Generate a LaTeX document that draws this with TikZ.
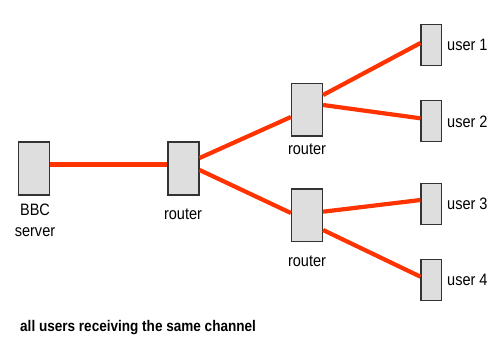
\documentclass[tikz,border=0pt]{standalone}
\usepackage{fontspec}
\setmainfont{Liberation Sans}[FakeStretch=0.88]
\begin{document}
\begin{tikzpicture}[x=1bp,y=-1bp,
  dev/.style={draw=black!80,line width=1.2bp,fill=black!13,inner sep=0pt,minimum width=31bp,minimum height=53bp},
  usr/.style={draw=black!80,line width=1.2bp,fill=black!13,inner sep=0pt,minimum width=20.5bp,minimum height=41bp},
  lbl/.style={font=\fontsize{16.5bp}{21bp}\selectfont,inner sep=0pt,align=center},
  link/.style={draw={rgb,255:red,255;green,51;blue,0},line width=4.2bp}]
\useasboundingbox (0,0) rectangle (488,340);
\node[dev] (bbc) at (34,168.5) {};
\node[dev] (r1) at (183.5,168.5) {};
\node[dev,minimum height=52.5bp] (r2) at (307,109.7) {};
\node[dev,minimum height=52.5bp] (r3) at (307,215.2) {};
\node[usr] (u1) at (431.3,45) {};
\node[usr] (u2) at (431.3,121.2) {};
\node[usr] (u3) at (431.3,203.7) {};
\node[usr] (u4) at (431.3,279.7) {};
\node[lbl,anchor=north] (lbbc) at (35,204) {BBC\\server};
\node[lbl,anchor=north] (lr1) at (183,209) {router};
\node[lbl,anchor=north] (lr2) at (307,144) {router};
\node[lbl,anchor=north] (lr3) at (307,256) {router};
\node[lbl,anchor=west] (lu1) at (447,45) {user 1};
\node[lbl,anchor=west] (lu2) at (447,121.5) {user 2};
\node[lbl,anchor=west] (lu3) at (447,204) {user 3};
\node[lbl,anchor=west] (lu4) at (447,280) {user 4};
\node[font=\fontsize{15.4bp}{16bp}\selectfont\bfseries,inner sep=0pt,anchor=west] (cap) at (20,328) {all users receiving the same channel};
\draw[link] (bbc.east |- 0,164.5) -- (r1.west |- 0,164.5);
\draw[link] (r1.east |- 0,158) -- (r2.west |- 0,117);
\draw[link] (r1.east |- 0,170) -- (r3.west |- 0,213);
\draw[link] (r2.east |- 0,95) -- (u1.west |- 0,43);
\draw[link] (r2.east |- 0,105) -- (u2.west |- 0,118.3);
\draw[link] (r3.east |- 0,211.7) -- (u3.west |- 0,200);
\draw[link] (r3.east |- 0,230) -- (u4.west |- 0,276.7);
\end{tikzpicture}
\end{document}
